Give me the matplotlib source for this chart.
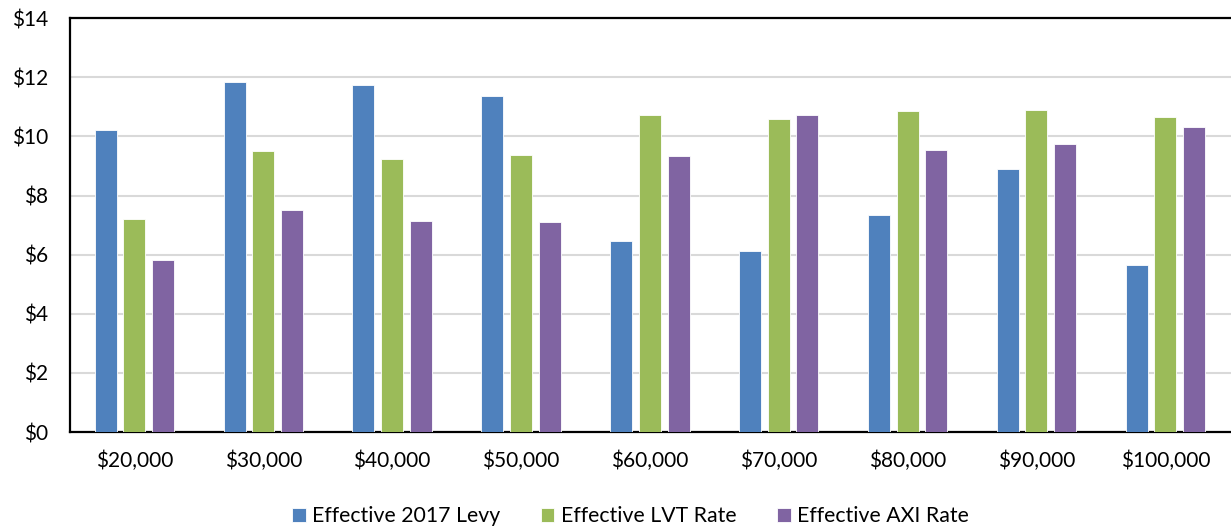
import matplotlib.pyplot as plt
import numpy as np
from matplotlib.ticker import FuncFormatter

incomes = ["$20,000", "$30,000", "$40,000", "$50,000", "$60,000",
           "$70,000", "$80,000", "$90,000", "$100,000"]
levy_2017 = [10.21, 11.83, 11.75, 11.38, 6.45, 6.14, 7.33, 8.90, 5.64]
lvt_rate = [7.20, 9.50, 9.22, 9.38, 10.71, 10.58, 10.85, 10.89, 10.65]
axi_rate = [5.81, 7.50, 7.14, 7.12, 9.35, 10.73, 9.55, 9.75, 10.30]

series = [
    ("Effective 2017 Levy", levy_2017, "#4f81bd"),
    ("Effective LVT Rate", lvt_rate, "#9bbb59"),
    ("Effective AXI Rate", axi_rate, "#8064a2"),
]

plt.rcParams["font.family"] = ["Lato", "DejaVu Sans"]

fig = plt.figure(figsize=(12.31, 5.27), dpi=100)
ax = fig.add_axes([0.0569, 0.180, 0.9431, 0.7858])

x = np.arange(len(incomes))
step = 0.223
width = 0.171
for i, (name, values, color) in enumerate(series):
    ax.bar(x + (i - 1) * step, values, width=width, color=color,
           edgecolor="white", linewidth=0.6, label=name, zorder=3)

ax.set_xlim(-0.5, len(incomes) - 0.49)
ax.set_ylim(0, 14)
ax.set_yticks(np.arange(0, 15, 2))
ax.yaxis.set_major_formatter(FuncFormatter(lambda v, _: f"${v:.0f}"))
ax.set_xticks(x)
ax.set_xticklabels(incomes)
ax.tick_params(axis="both", length=0, labelsize=15, colors="black")
ax.tick_params(axis="y", pad=16)
ax.tick_params(axis="x", pad=13)

ax.grid(axis="y", color="#d9d9d9", linewidth=1.5, zorder=0)
for side in ("left", "top", "bottom"):
    ax.spines[side].set_linewidth(1.6)
    ax.spines[side].set_color("black")
ax.spines["right"].set_visible(False)

fig.legend(loc="lower center", bbox_to_anchor=(0.512, -0.035), ncol=3,
           frameon=False, fontsize=15.3, handlelength=0.65, handleheight=0.65,
           handletextpad=0.3, columnspacing=1.9)

fig.savefig("out.png", dpi=100)
